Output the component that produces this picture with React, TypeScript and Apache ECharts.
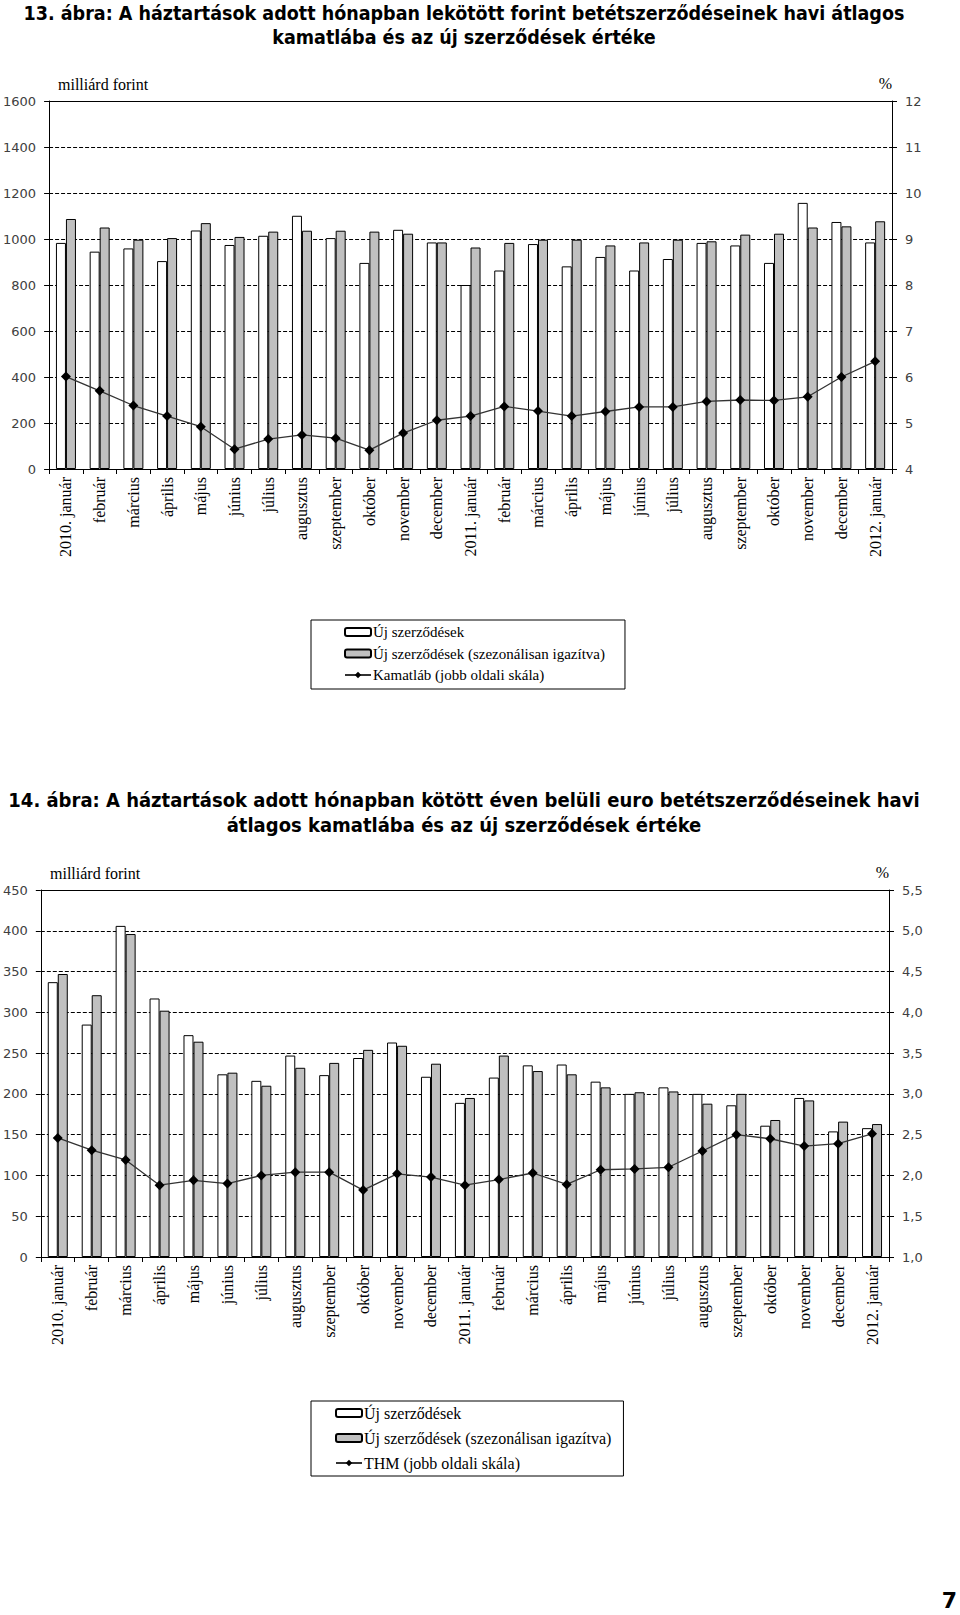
import React, { useEffect, useRef } from "react";
import * as echarts from "echarts";

const categories = [
  "2010. január", "február", "március", "április", "május", "június", "július",
  "augusztus", "szeptember", "október", "november", "december",
  "2011. január", "február", "március", "április", "május", "június", "július",
  "augusztus", "szeptember", "október", "november", "december", "2012. január",
];

// Chart 13 (forint deposits)
const newContracts1 = [983, 945, 959, 904, 1037, 974, 1014, 1101, 1004, 896, 1040, 985, 800, 863, 978, 881, 922, 863, 913, 983, 972, 896, 1157, 1074, 985];
const seasonal1 = [1087, 1050, 997, 1004, 1069, 1009, 1032, 1036, 1036, 1032, 1023, 985, 963, 983, 997, 997, 972, 985, 997, 990, 1019, 1023, 1050, 1055, 1077];
const rate1 = [6.01, 5.70, 5.38, 5.15, 4.92, 4.43, 4.65, 4.74, 4.67, 4.41, 4.78, 5.06, 5.15, 5.36, 5.26, 5.15, 5.25, 5.35, 5.35, 5.47, 5.50, 5.49, 5.57, 6.00, 6.34];

// Chart 14 (euro deposits)
const newContracts2 = [337, 285, 406, 317, 272, 224, 216, 247, 223, 244, 263, 221, 189, 220, 235, 236, 215, 200, 208, 200, 186, 161, 195, 154, 158];
const seasonal2 = [347, 321, 396, 302, 264, 226, 210, 232, 238, 254, 259, 237, 195, 247, 228, 224, 208, 202, 203, 188, 200, 168, 192, 166, 163];
const thm2 = [2.46, 2.31, 2.19, 1.88, 1.94, 1.90, 2.00, 2.04, 2.04, 1.82, 2.02, 1.98, 1.88, 1.95, 2.03, 1.89, 2.07, 2.08, 2.10, 2.30, 2.50, 2.45, 2.36, 2.39, 2.51];

const title1 = [
  "13. ábra: A háztartások adott hónapban lekötött forint betétszerződéseinek havi átlagos",
  "kamatlába és az új szerződések értéke",
];
const title2 = [
  "14. ábra: A háztartások adott hónapban kötött éven belüli euro betétszerződéseinek havi",
  "átlagos kamatlába és az új szerződések értéke",
];

const S1 = "Új szerződések";
const S2 = "Új szerződések (szezonálisan igazítva)";
const L1 = "Kamatláb (jobb oldali skála)";
const L2 = "THM (jobb oldali skála)";

const SERIF = "'Liberation Serif', 'Times New Roman', serif";
const SANS = "'DejaVu Sans', Verdana, sans-serif";
const TITLE_FONT = "'DejaVu Sans Condensed', 'Liberation Sans Narrow', 'DejaVu Sans', sans-serif";

function xAxisCfg(gridIndex: number) {
  return {
    type: "category",
    gridIndex,
    data: categories,
    boundaryGap: true,
    axisLine: { show: true, lineStyle: { color: "#000", width: 1 } },
    axisTick: { show: true, alignWithLabel: false, length: 5, lineStyle: { color: "#000" } },
    axisLabel: {
      rotate: 90,
      interval: 0,
      fontFamily: SERIF,
      fontSize: 16,
      color: "#000",
      margin: 8,
    },
    splitLine: { show: false },
  };
}

function leftAxis(gridIndex: number, max: number, interval: number) {
  return {
    type: "value",
    gridIndex,
    position: "left",
    min: 0,
    max,
    interval,
    axisLine: { show: true, lineStyle: { color: "#000", width: 1 } },
    axisTick: { show: true, length: 5, lineStyle: { color: "#000" } },
    axisLabel: {
      fontFamily: SANS, fontSize: 13, color: "#404040", margin: 13,
      formatter: (v: number) => String(v),
    },
    splitLine: { show: true, lineStyle: { color: "#000", width: 1, type: [4, 2] } },
  };
}

function rightAxis(gridIndex: number, min: number, max: number, interval: number, fmt: (v: number) => string) {
  return {
    type: "value",
    gridIndex,
    position: "right",
    min,
    max,
    interval,
    axisLine: { show: true, lineStyle: { color: "#000", width: 1 } },
    axisTick: { show: true, length: 5, lineStyle: { color: "#000" } },
    axisLabel: { fontFamily: SANS, fontSize: 13, color: "#404040", margin: 13, formatter: fmt },
    splitLine: { show: false },
  };
}

const barWhite = { color: "#ffffff", borderColor: "#000", borderWidth: 1 };
const barGray = { color: "#c0c0c0", borderColor: "#000", borderWidth: 1 };

function legendCfg(top: number, names: string[], fontSize: number, lineHeight: number, gap: number, padding: number[]) {
  return {
    orient: "vertical",
    left: 311,
    top,
    data: names,
    itemWidth: 26,
    itemHeight: 8,
    itemGap: gap,
    padding,
    borderColor: "#000",
    borderWidth: 1,
    backgroundColor: "#fff",
    selectedMode: false,
    textStyle: { fontFamily: SERIF, fontSize, color: "#000", lineHeight, padding: [0, 0, 0, -3] },
  };
}

function titleText(lines: string[], y1: number, y2: number, size: number) {
  return lines.map((t, i) => ({
    type: "text",
    x: 464,
    y: i === 0 ? y1 : y2,
    style: {
      text: t,
      textAlign: "center",
      textVerticalAlign: "middle",
      fontFamily: TITLE_FONT,
      fontWeight: "bold",
      fontSize: size,
      fill: "#000",
    },
  }));
}

function unitText(text: string, x: number, y: number, align: string) {
  return {
    type: "text",
    x,
    y,
    style: {
      text,
      textAlign: align,
      textVerticalAlign: "middle",
      fontFamily: SERIF,
      fontSize: 16,
      fill: "#000",
    },
  };
}

function topBorder(value: number) {
  return {
    silent: true,
    symbol: "none",
    label: { show: false },
    lineStyle: { color: "#000", width: 1, type: "solid" },
    data: [{ yAxis: value }],
  };
}

export default function App() {
  const ref = useRef<HTMLDivElement>(null);

  useEffect(() => {
    if (!ref.current) return;
    const chart = echarts.init(ref.current, undefined, { renderer: "svg" });
    const option: any = {
      animation: false,
      backgroundColor: "#fff",
      grid: [
        { left: 48, right: 68, top: 101, height: 368 },
        { left: 39, right: 71, top: 890, height: 367 },
      ],
      xAxis: [xAxisCfg(0), xAxisCfg(1)],
      yAxis: [
        leftAxis(0, 1600, 200),
        rightAxis(0, 4, 12, 1, (v: number) => String(v)),
        leftAxis(1, 450, 50),
        rightAxis(1, 1, 5.5, 0.5, (v: number) => v.toFixed(1).replace(".", ",")),
      ],
      legend: [
        legendCfg(620, [S1, S2, L1], 15, 16, 5.5, [4, 20, 6, 33]),
        legendCfg(1401, [S1, S2, L2], 16, 17, 8, [3.5, 12, 4.5, 24]),
      ],
      series: [
        {
          type: "bar", name: S1, xAxisIndex: 0, yAxisIndex: 0, data: newContracts1, barWidth: 10, barGap: "0%", itemStyle: barWhite,
          markLine: topBorder(1600),
        },
        { type: "bar", name: S2, xAxisIndex: 0, yAxisIndex: 0, data: seasonal1, barWidth: 10, barGap: "0%", itemStyle: barGray },
        {
          type: "line", name: L1, xAxisIndex: 0, yAxisIndex: 1, data: rate1, z: 5,
          symbol: "diamond", symbolSize: 10, itemStyle: { color: "#000" },
          lineStyle: { color: "#333", width: 1.3 },
        },
        {
          type: "bar", name: S1, xAxisIndex: 1, yAxisIndex: 2, data: newContracts2, barWidth: 10, barGap: "0%", itemStyle: barWhite,
          markLine: topBorder(450),
        },
        { type: "bar", name: S2, xAxisIndex: 1, yAxisIndex: 2, data: seasonal2, barWidth: 10, barGap: "0%", itemStyle: barGray },
        {
          type: "line", name: L2, xAxisIndex: 1, yAxisIndex: 3, data: thm2, z: 5,
          symbol: "diamond", symbolSize: 10, itemStyle: { color: "#000" },
          lineStyle: { color: "#333", width: 1.3 },
        },
      ],
      graphic: [
        ...titleText(title1, 13, 37, 19.5),
        ...titleText(title2, 800, 825, 20),
        unitText("milliárd forint", 58, 84, "left"),
        unitText("%", 892, 83, "right"),
        unitText("milliárd forint", 50, 873, "left"),
        unitText("%", 889, 872, "right"),
        {
          type: "text",
          x: 957,
          y: 1600,
          style: {
            text: "7",
            textAlign: "right",
            textVerticalAlign: "middle",
            fontFamily: SANS,
            fontWeight: "bold",
            fontSize: 22,
            fill: "#000",
          },
        },
      ],
    };
    chart.setOption(option);
    return () => chart.dispose();
  }, []);

  return (
    <div
      ref={ref}
      style={{ position: "absolute", left: 0, top: 0, width: 960, height: 1615, background: "#fff" }}
    />
  );
}
